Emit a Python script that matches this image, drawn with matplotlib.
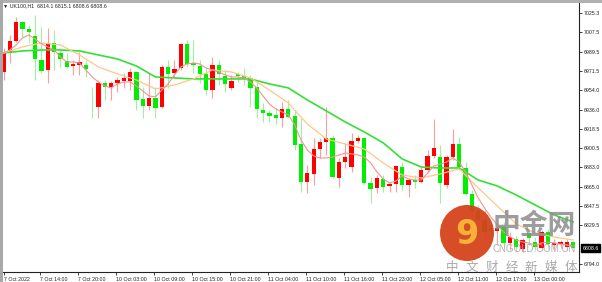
import numpy as np
import matplotlib
matplotlib.use("Agg")
import matplotlib.pyplot as plt
from matplotlib.patches import Rectangle, Ellipse
from matplotlib.transforms import blended_transform_factory

# UK100, H1 - swiece (open, high, low, close)
otwarcie = [6970.9, 6988.4, 6999.5, 7017.0, 7010.6, 7004.1, 6982.0, 6972.8, 6997.7, 6988.4,
            6981.1, 6976.4, 6977.4, 6977.4, 6938.0, 6938.6, 6960.8, 6957.1, 6960.8, 6962.6,
            6962.6, 6970.9, 6946.0, 6939.6, 6947.0, 6938.6, 6975.5, 6970.0, 6974.6, 6996.7,
            6979.2, 6976.4, 6969.1, 6954.3, 6977.4, 6967.2, 6956.2, 6969.1, 6967.2, 6965.4,
            6957.1, 6935.9, 6933.1, 6931.3, 6928.5, 6936.8, 6930.3, 6904.5, 6869.5, 6876.9,
            6899.9, 6906.4, 6910.1, 6873.2, 6887.9, 6883.3, 6907.3, 6910.1, 6868.6, 6864.0,
            6872.3, 6865.8, 6867.7, 6883.3, 6866.8, 6871.3, 6869.5, 6880.6, 6893.5, 6892.5,
            6866.8, 6892.5, 6904.5, 6882.4, 6858.4, 6842.8, 6834.5, 6827.1, 6824.3, 6828.0,
            6813.2, 6816.9, 6807.7, 6822.5, 6814.2, 6808.7, 6823.4, 6811.4, 6812.3, 6809.6,
            6814.1]
maks = [6993.0, 7005.0, 7021.6, 7017.5, 7014.3, 7023.5, 7012.4, 7011.5, 7009.6, 6993.0,
        6988.4, 6982.0, 6989.4, 6982.0, 6957.1, 6963.5, 6963.5, 6962.6, 6966.3, 6970.0,
        6974.6, 6971.8, 6957.1, 6970.0, 6957.1, 6977.4, 6982.0, 6982.0, 6997.7, 7000.4,
        7000.4, 6982.0, 6974.6, 6984.7, 6982.0, 6972.8, 6968.2, 6970.9, 6974.6, 6968.2,
        6961.7, 6942.3, 6935.9, 6937.7, 6943.3, 6945.1, 6935.9, 6928.5, 6885.2, 6910.1,
        6910.1, 6938.6, 6912.9, 6891.6, 6905.5, 6914.7, 6912.9, 6911.0, 6874.1, 6875.9,
        6875.9, 6869.5, 6885.2, 6887.9, 6873.2, 6875.9, 6883.3, 6899.0, 6927.6, 6903.6,
        6894.4, 6918.4, 6911.0, 6887.9, 6862.1, 6848.3, 6843.7, 6832.6, 6829.9, 6832.6,
        6823.4, 6819.7, 6817.9, 6825.2, 6818.8, 6825.2, 6826.0, 6817.0, 6816.0, 6817.0,
        6815.1]
minimum = [6963.5, 6979.2, 6998.6, 7002.3, 6997.7, 6963.5, 6970.0, 6960.8, 6972.8, 6975.5,
           6974.6, 6968.2, 6968.2, 6966.3, 6928.5, 6928.5, 6945.1, 6945.1, 6952.5, 6956.2,
           6954.3, 6935.9, 6928.5, 6935.9, 6928.5, 6937.7, 6956.2, 6966.3, 6972.8, 6975.5,
           6970.0, 6960.8, 6949.7, 6947.0, 6958.9, 6952.5, 6954.3, 6961.7, 6958.9, 6938.6,
           6928.5, 6924.8, 6924.8, 6923.0, 6920.2, 6928.5, 6899.0, 6860.3, 6859.4, 6866.8,
           6891.6, 6894.4, 6873.2, 6864.9, 6882.4, 6878.7, 6905.5, 6867.7, 6850.1, 6859.4,
           6860.3, 6860.3, 6860.3, 6862.1, 6855.7, 6864.0, 6868.6, 6878.7, 6891.6, 6850.1,
           6864.0, 6889.8, 6880.6, 6857.5, 6830.0, 6827.1, 6816.0, 6814.2, 6811.4, 6808.7,
           6806.8, 6805.0, 6805.0, 6811.4, 6806.8, 6806.8, 6808.0, 6808.0, 6809.0, 6806.8,
           6808.6]
zamkniecie = [6988.4, 6999.5, 7017.0, 7010.6, 7007.8, 6982.9, 6971.8, 6997.7, 6989.4, 6982.9,
              6975.5, 6978.3, 6980.1, 6973.7, 6937.3, 6960.8, 6957.1, 6960.8, 6963.5, 6965.4,
              6970.9, 6945.1, 6939.6, 6947.0, 6937.7, 6975.5, 6969.1, 6973.7, 6996.7, 6978.3,
              6977.4, 6969.1, 6954.3, 6977.4, 6969.1, 6959.9, 6962.6, 6967.2, 6964.5, 6956.2,
              6936.8, 6933.1, 6930.3, 6928.5, 6936.8, 6929.4, 6903.6, 6869.5, 6877.8, 6899.9,
              6906.4, 6910.1, 6874.1, 6887.9, 6892.5, 6907.3, 6910.1, 6868.6, 6863.1, 6873.2,
              6864.9, 6867.7, 6884.2, 6866.8, 6871.3, 6869.5, 6880.6, 6893.5, 6900.8, 6868.6,
              6892.5, 6904.5, 6883.3, 6858.4, 6842.8, 6834.5, 6823.4, 6824.3, 6827.1, 6813.2,
              6818.8, 6809.6, 6816.0, 6817.9, 6809.6, 6823.4, 6812.3, 6813.2, 6814.2, 6814.0,
              6808.6]

# srednie ruchome
ma_szybka = [6988.4, 6991.2, 6995.8, 7002.3, 7005.0, 7001.3, 6996.7, 6994.0, 6991.2, 6984.7,
             6980.1, 6980.1, 6979.2, 6972.8, 6966.3, 6961.7, 6958.0, 6956.2, 6959.9, 6961.7,
             6961.7, 6958.0, 6953.4, 6948.8, 6947.9, 6954.3, 6959.9, 6968.2, 6975.5, 6978.3,
             6979.2, 6978.3, 6974.6, 6972.8, 6970.9, 6968.2, 6966.3, 6966.3, 6965.4, 6961.7,
             6956.2, 6948.8, 6941.4, 6936.8, 6934.0, 6931.3, 6922.1, 6908.2, 6899.0, 6893.5,
             6891.6, 6891.6, 6892.5, 6894.4, 6896.2, 6895.3, 6894.4, 6892.5, 6887.0, 6878.7,
             6872.3, 6868.6, 6870.4, 6875.0, 6872.3, 6871.3, 6871.3, 6877.8, 6884.2, 6886.1,
             6887.9, 6891.6, 6887.9, 6878.7, 6866.8, 6854.7, 6845.5, 6837.2, 6829.9, 6823.4,
             6818.8, 6816.0, 6814.2, 6813.2, 6811.4, 6813.2, 6814.2, 6813.2, 6812.3, 6811.4,
             6810.5]
# co trzecia swieca
ma_srednia = [6988.4, 6994.0, 6997.7, 6995.8, 6986.6, 6975.5, 6969.1, 6963.5, 6955.2, 6958.9,
              6964.5, 6972.8, 6970.9, 6965.4, 6954.3, 6942.3, 6923.0, 6909.1, 6904.5, 6899.9,
              6887.0, 6875.9, 6873.2, 6876.9, 6881.5, 6864.0, 6847.4, 6830.8, 6822.5, 6818.8,
              6816.0]
ma_wolna = [6988.4, 6990.3, 6991.2, 6991.2, 6990.3, 6986.6, 6982.9, 6976.4, 6966.3, 6965.4,
            6964.5, 6964.5, 6964.5, 6964.5, 6959.9, 6956.2, 6945.1, 6935.0, 6924.8, 6915.6,
            6905.5, 6890.7, 6883.3, 6882.4, 6882.4, 6871.3, 6865.8, 6857.5, 6848.3, 6839.1,
            6832.6]

ceny_osi = [7025.3, 7007.5, 6989.5, 6971.5, 6954.0, 6936.0, 6918.5, 6900.5,
            6883.0, 6865.0, 6847.5, 6829.5, 6794.0]
etykiety_czasu = ["7 Oct 2022", "7 Oct 14:00", "7 Oct 20:00", "10 Oct 03:00", "10 Oct 09:00",
                  "10 Oct 15:00", "10 Oct 21:00", "11 Oct 04:00", "11 Oct 10:00", "11 Oct 16:00",
                  "11 Oct 23:00", "12 Oct 05:00", "12 Oct 11:00", "12 Oct 17:00", "13 Oct 00:00"]

W, H = 602, 282
czcionka = ["Liberation Sans", "DejaVu Sans"]
fig = plt.figure(figsize=(W / 100, H / 100), dpi=100)
fig.patch.set_facecolor("white")
ax = fig.add_axes([3 / W, 10 / H, 576 / W, 269 / H])

o = np.array(otwarcie)
c = np.array(zamkniecie)
x = np.arange(len(c))
wzrost = c >= o

# knoty i korpusy
kolor = np.where(wzrost, "#ff0000", "#00ee00")
knot = np.where(wzrost, "#ff9c9c", "#a0f0a0")
ax.vlines(x, minimum, maks, colors=knot, linewidth=0.8, zorder=2)
ax.bar(x, np.maximum(np.abs(c - o), 0.8), bottom=np.minimum(o, c), width=0.68,
       color=kolor, linewidth=0, zorder=3)

x3 = np.arange(0, len(c), 3)
ax.plot(x3, ma_wolna, color="#35e035", lw=1.2, zorder=4)
ax.plot(x3, ma_srednia, color="#ffc68c", lw=0.9, zorder=4)
ax.plot(x, ma_szybka, color="#f59292", lw=0.8, zorder=4)

ax.set_xlim(-0.08, 90.92)
ax.set_ylim(6786.5, 7034.5)

for s in ["left", "top"]:
    ax.spines[s].set_visible(False)
for s in ["right", "bottom"]:
    ax.spines[s].set_color("#222222")
    ax.spines[s].set_linewidth(0.8)

ax.yaxis.tick_right()
ax.set_yticks(ceny_osi)
ax.set_yticklabels(["{:.1f}".format(v) for v in ceny_osi], fontfamily=czcionka)
ax.tick_params(axis="y", length=2, width=0.6, pad=1.5, labelsize=3.8, colors="#222222")

pozycje = [max(6 * k - 0.2, 0) for k in range(len(etykiety_czasu))]
ax.set_xticks(pozycje)
ax.set_xticklabels(etykiety_czasu, ha="left", fontfamily=czcionka)
ax.tick_params(axis="x", length=2.5, width=0.6, pad=1, labelsize=3.8, colors="#222222")

# ostatnia cena
tr = blended_transform_factory(ax.transAxes, ax.transData)
ax.text(1.006, zamkniecie[-1], "{:.1f}".format(zamkniecie[-1]), transform=tr,
        fontsize=3.8, color="white", va="center", ha="left", fontfamily=czcionka,
        bbox=dict(facecolor="black", edgecolor="black", pad=0.8), zorder=6, clip_on=False)

def px(a, b):
    return a / W, 1 - b / H

fig.text(*px(3, 5.5), "\u25bc UK100,H1  6814.1 6815.1 6808.6 6808.6", fontsize=3.8,
         color="#222222", va="center", ha="left", family=czcionka)

# ramka okna
fig.add_artist(Rectangle((0, 1 - 2.5 / H), 1, 2.5 / H, transform=fig.transFigure,
                         color="#b0b0b0", lw=0))
fig.add_artist(Rectangle((0, 0), 2.5 / W, 1, transform=fig.transFigure,
                         color="#a8a8a8", lw=0))

# znak wodny
fig.add_artist(Ellipse(px(467, 233), 54 / W, 56 / H, transform=fig.transFigure,
                       color="#d4431b", lw=0, alpha=0.95, zorder=7))
fig.text(*px(467, 234), "9", fontsize=24, fontweight="bold", color="#f6b236",
         ha="center", va="center", family="DejaVu Sans", zorder=8)
cjk = ["Noto Sans CJK SC", "DejaVu Sans"]
fig.text(*px(534, 226), "中金网", fontsize=20, fontweight="bold", color="#8c8c8c",
         alpha=0.85, ha="center", va="center", family=cjk, zorder=8)
fig.text(*px(534, 249), "CNGOLD.COM.CN", fontsize=7, color="#a8a8a8",
         alpha=0.9, ha="center", va="center", family=czcionka, zorder=8)
for k, znak in enumerate("中文财经新媒体"):
    fig.text(*px(452 + 19.8 * k, 267), znak, fontsize=9, color="#a0a0a0",
             alpha=0.9, ha="center", va="center", family=cjk, zorder=8)

fig.savefig("out.png", dpi=100)
